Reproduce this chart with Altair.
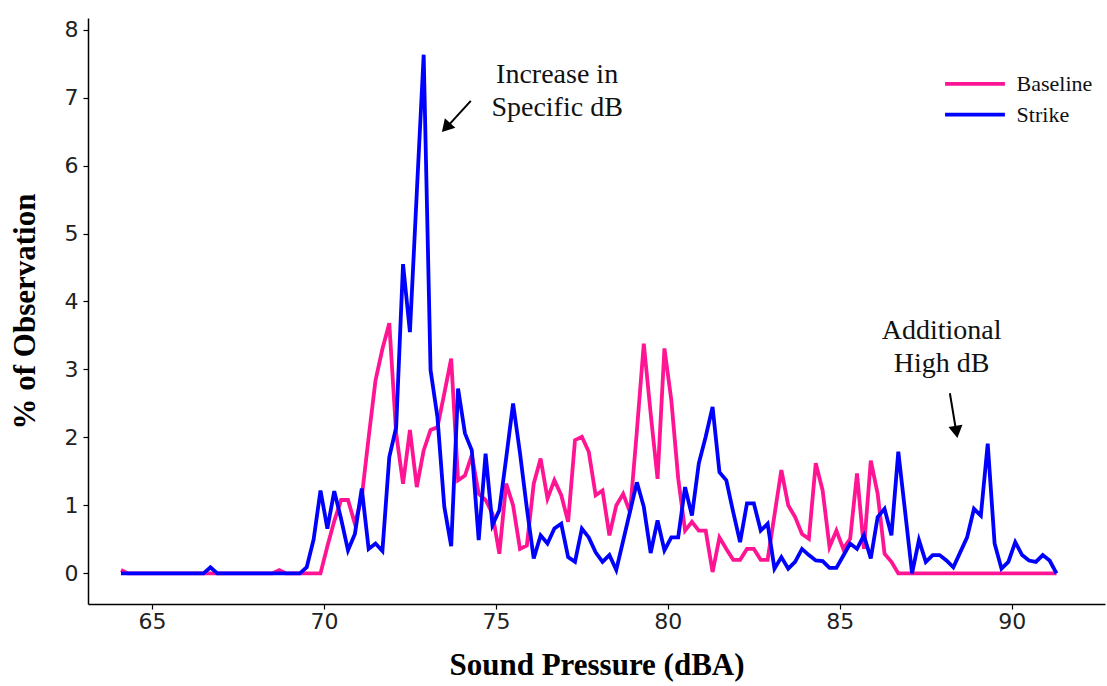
import altair as alt
import pandas as pd

# Sound pressure levels (dBA), 0.2 dB bins
sound_db = [
    64.1, 64.3, 64.5, 64.7, 64.9,
    65.1, 65.3, 65.5, 65.7, 65.9,
    66.1, 66.3, 66.5, 66.7, 66.9,
    67.1, 67.3, 67.5, 67.7, 67.9,
    68.1, 68.3, 68.5, 68.7, 68.9,
    69.1, 69.3, 69.5, 69.7, 69.9,
    70.1, 70.3, 70.5, 70.7, 70.9,
    71.1, 71.3, 71.5, 71.7, 71.9,
    72.1, 72.3, 72.5, 72.7, 72.9,
    73.1, 73.3, 73.5, 73.7, 73.9,
    74.1, 74.3, 74.5, 74.7, 74.9,
    75.1, 75.3, 75.5, 75.7, 75.9,
    76.1, 76.3, 76.5, 76.7, 76.9,
    77.1, 77.3, 77.5, 77.7, 77.9,
    78.1, 78.3, 78.5, 78.7, 78.9,
    79.1, 79.3, 79.5, 79.7, 79.9,
    80.1, 80.3, 80.5, 80.7, 80.9,
    81.1, 81.3, 81.5, 81.7, 81.9,
    82.1, 82.3, 82.5, 82.7, 82.9,
    83.1, 83.3, 83.5, 83.7, 83.9,
    84.1, 84.3, 84.5, 84.7, 84.9,
    85.1, 85.3, 85.5, 85.7, 85.9,
    86.1, 86.3, 86.5, 86.7, 86.9,
    87.1, 87.3, 87.5, 87.7, 87.9,
    88.1, 88.3, 88.5, 88.7, 88.9,
    89.1, 89.3, 89.5, 89.7, 89.9,
    90.1, 90.3, 90.5, 90.7, 90.9,
    91.1, 91.3,
]

baseline = [
    0.05, 0, 0, 0, 0,
    0, 0, 0, 0, 0,
    0, 0, 0, 0, 0,
    0, 0, 0, 0, 0,
    0, 0, 0, 0.05, 0,
    0, 0, 0, 0, 0,
    0.40, 0.77, 1.08, 1.08, 0.73,
    1.12, 2.00, 2.84, 3.30, 3.68,
    2.06, 1.32, 2.11, 1.27, 1.81,
    2.11, 2.15, 2.65, 3.16, 1.37,
    1.44, 1.74, 1.17, 1.08, 0.88,
    0.29, 1.32, 1.00, 0.36, 0.41,
    1.32, 1.69, 1.10, 1.37, 1.15,
    0.76, 1.96, 2.01, 1.79, 1.15,
    1.22, 0.56, 1.00, 1.17, 0.90,
    2.10, 3.38, 2.35, 1.39, 3.31,
    2.55, 1.40, 0.63, 0.76, 0.63,
    0.63, 0.02, 0.53, 0.36, 0.20,
    0.20, 0.36, 0.36, 0.20, 0.20,
    0.86, 1.52, 1.00, 0.83, 0.58,
    0.51, 1.62, 1.22, 0.39, 0.63,
    0.36, 0.51, 1.47, 0.36, 1.66,
    1.17, 0.29, 0.17, 0, 0,
    0, 0, 0, 0, 0,
    0, 0, 0, 0, 0,
    0, 0, 0, 0, 0,
    0, 0, 0, 0, 0,
    0, 0,
]

strike = [
    0, 0, 0, 0, 0,
    0, 0, 0, 0, 0,
    0, 0, 0, 0.09, 0,
    0, 0, 0, 0, 0,
    0, 0, 0, 0, 0,
    0, 0, 0.09, 0.50, 1.22,
    0.66, 1.21, 0.80, 0.34, 0.58,
    1.25, 0.36, 0.44, 0.33, 1.71,
    2.15, 4.55, 3.55, 5.60, 7.63,
    2.99, 2.30, 0.98, 0.40, 2.72,
    2.06, 1.81, 0.49, 1.76, 0.71,
    0.93, 1.70, 2.50, 1.77, 0.96,
    0.22, 0.56, 0.44, 0.66, 0.73,
    0.24, 0.17, 0.66, 0.53, 0.31,
    0.17, 0.27, 0.05, 0.48, 0.91,
    1.34, 0.98, 0.30, 0.78, 0.34,
    0.53, 0.53, 1.27, 0.85, 1.62,
    2.01, 2.45, 1.49, 1.37, 0.90,
    0.46, 1.03, 1.03, 0.63, 0.73,
    0.07, 0.24, 0.07, 0.17, 0.36,
    0.27, 0.19, 0.18, 0.08, 0.08,
    0.26, 0.44, 0.36, 0.56, 0.22,
    0.83, 0.95, 0.56, 1.79, 0.90,
    0, 0.49, 0.17, 0.27, 0.27,
    0.19, 0.09, 0.31, 0.53, 0.95,
    0.85, 1.91, 0.44, 0.07, 0.17,
    0.46, 0.27, 0.19, 0.17, 0.27,
    0.19, 0,
]

series_names = ["Baseline", "Strike"]
series_colors = ["#FF1493", "#0000FF"]

rows = []
for name, vals in zip(series_names, [baseline, strike]):
    for x, v in zip(sound_db, vals):
        rows.append({"db": x, "pct": v, "series": name})
df = pd.DataFrame(rows)

X_DOMAIN = [63.14, 92.71]
Y_DOMAIN = [-0.45, 8.17]

xs = alt.Scale(domain=X_DOMAIN, nice=False, zero=False)
ys = alt.Scale(domain=Y_DOMAIN, nice=False, zero=False)
color_scale = alt.Scale(domain=series_names, range=series_colors)

lines = alt.Chart(df).mark_line(strokeWidth=3.8, clip=True).encode(
    x=alt.X("db:Q", scale=xs,
            axis=alt.Axis(values=[65, 70, 75, 80, 85, 90], title="Sound Pressure (dBA)",
                          format="d", grid=False, domainColor="black", domainWidth=1.5,
                          tickColor="black", tickSize=5, tickWidth=1.2,
                          labelFont="DejaVu Sans", labelFontSize=22, labelColor="#222",
                          labelPadding=2,
                          titleFont="Liberation Serif", titleFontSize=31,
                          titleFontWeight="bold", titleColor="black", titlePadding=18)),
    y=alt.Y("pct:Q", scale=ys,
            axis=alt.Axis(values=[0, 1, 2, 3, 4, 5, 6, 7, 8], title="% of Observation",
                          format="d", grid=False, domainColor="black", domainWidth=1.5,
                          tickColor="black", tickSize=5, tickWidth=1.2,
                          labelFont="DejaVu Sans", labelFontSize=22, labelColor="#222",
                          labelPadding=5,
                          titleFont="Liberation Serif", titleFontSize=31,
                          titleFontWeight="bold", titleColor="black", titlePadding=23)),
    color=alt.Color("series:N", scale=color_scale, legend=None),
    detail="series:N",
)

# Legend (custom, placed in data units)
legend_df = pd.DataFrame({
    "series": series_names,
    "x1": [88.06, 88.06],
    "x2": [89.80, 89.80],
    "y": [7.20, 6.75],
    "tx": [90.14, 90.14],
})
legend_lines = alt.Chart(legend_df).mark_rule(strokeWidth=3.8).encode(
    x=alt.X("x1:Q", scale=xs), x2="x2:Q", y=alt.Y("y:Q", scale=ys),
    color=alt.Color("series:N", scale=color_scale, legend=None),
)
legend_text = alt.Chart(legend_df).mark_text(
    align="left", baseline="middle", font="Liberation Serif", fontSize=22, color="#111"
).encode(x=alt.X("tx:Q", scale=xs), y=alt.Y("y:Q", scale=ys), text="series:N")

# Annotations
ann_text_df = pd.DataFrame({
    "x": [76.78, 76.78, 87.96, 87.96],
    "y": [7.33, 6.85, 3.56, 3.08],
    "label": ["Increase in", "Specific dB", "Additional", "High dB"],
})
ann_text = alt.Chart(ann_text_df).mark_text(
    align="center", baseline="middle", font="Liberation Serif", fontSize=28, color="#111"
).encode(x=alt.X("x:Q", scale=xs), y=alt.Y("y:Q", scale=ys), text="label:N")

arrow_df = pd.DataFrame({
    "x1": [74.27, 88.20],
    "y1": [6.95, 2.65],
    "x2": [73.60, 88.38],
    "y2": [6.58, 2.10],
    "hx": [73.55, 88.39],
    "hy": [6.56, 2.08],
    "ang": [222, 171],
})
arrow_lines = alt.Chart(arrow_df).mark_rule(strokeWidth=2, color="black").encode(
    x=alt.X("x1:Q", scale=xs), y=alt.Y("y1:Q", scale=ys), x2="x2:Q", y2="y2:Q"
)
arrow_heads = alt.Chart(arrow_df).mark_point(
    shape="triangle-up", filled=True, color="black", size=200, opacity=1
).encode(
    x=alt.X("hx:Q", scale=xs), y=alt.Y("hy:Q", scale=ys),
    angle=alt.Angle("ang:Q", scale=None),
)

chart = alt.layer(
    lines, legend_lines, legend_text, ann_text, arrow_lines, arrow_heads
).properties(
    width=1017, height=586,
    autosize=alt.AutoSizeParams(type="none"),
    padding={"left": 88, "top": 18, "right": 2, "bottom": 82},
    background="white",
).configure_view(stroke=None)

chart.save("out.html", embed_options={"renderer": "svg", "actions": False})
